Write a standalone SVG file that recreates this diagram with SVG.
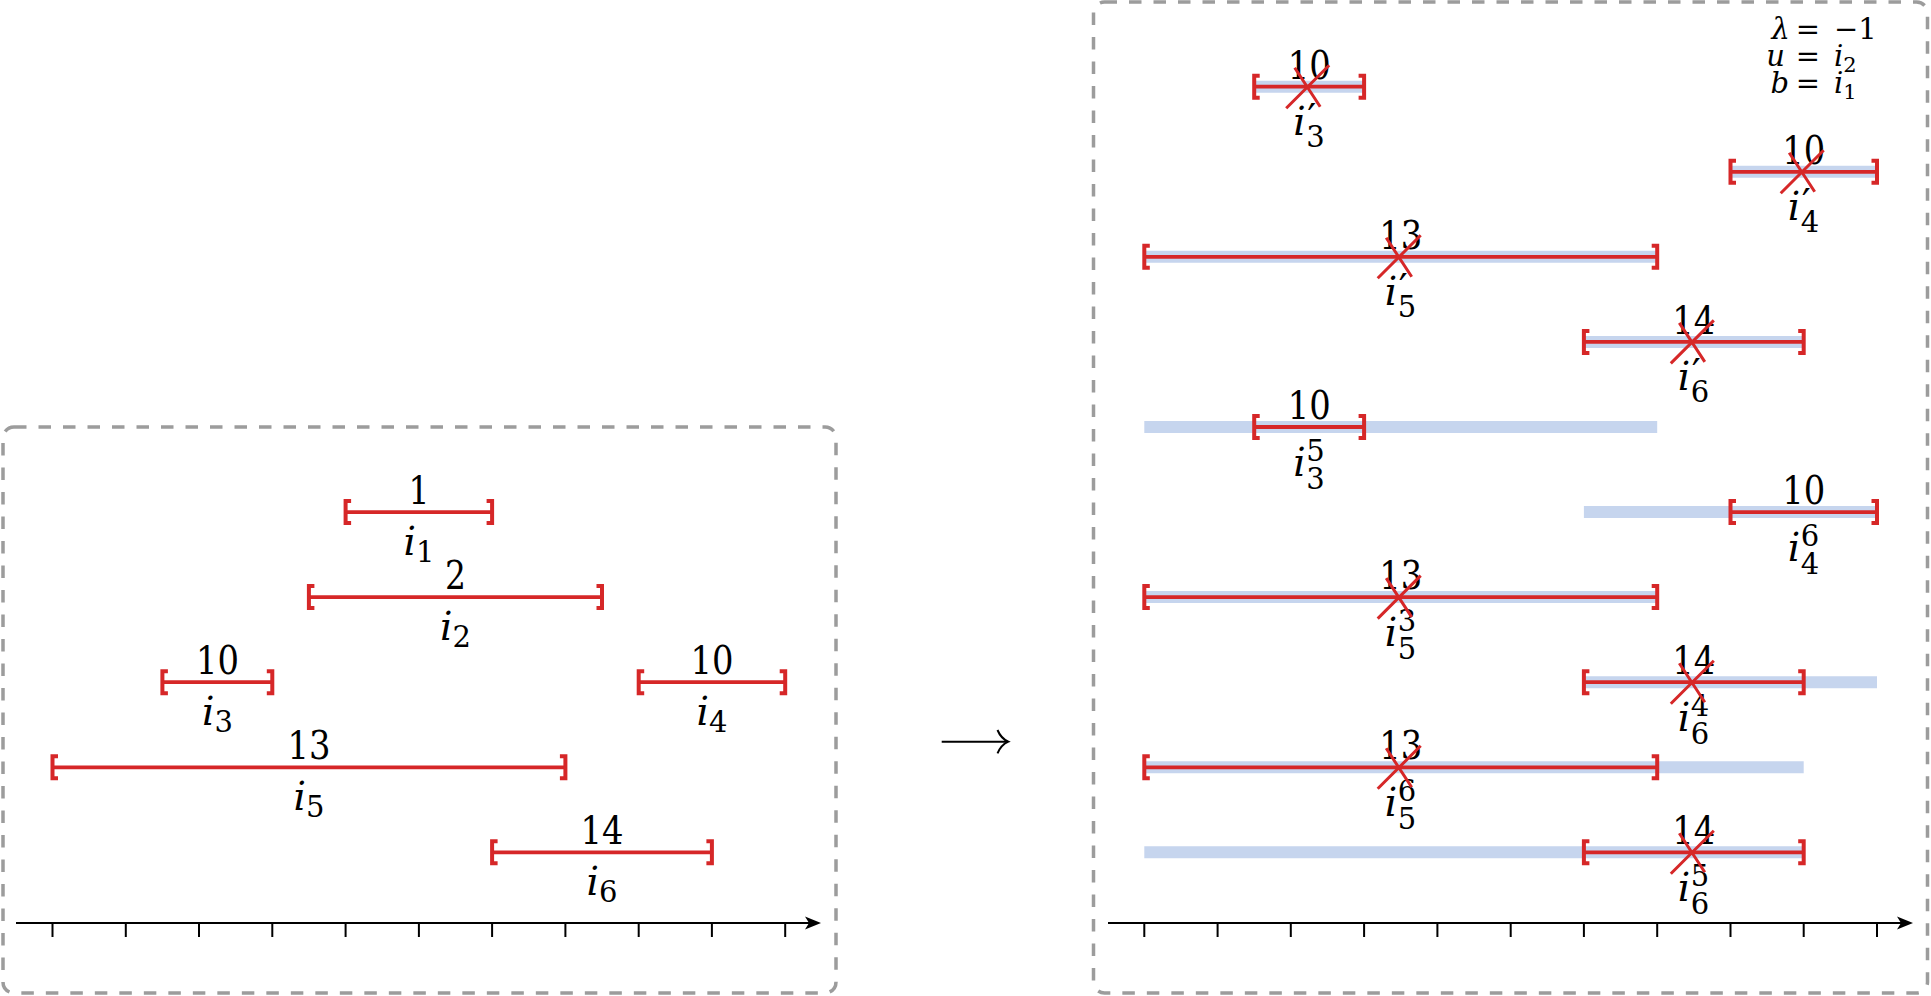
<svg xmlns="http://www.w3.org/2000/svg" width="1931" height="996" viewBox="0 0 1931 996">
<defs>
<style>
.frame{fill:none;stroke:#9c9c9c;stroke-width:3.5;stroke-dasharray:12.5 12}
.axis{fill:none;stroke:#000;stroke-width:2}
.tick{stroke:#000;stroke-width:2}
.band{stroke:#c6d5ee;stroke-width:12;stroke-linecap:butt}
.seg{stroke:#d62728;stroke-width:3.8;stroke-linecap:butt}
.br{fill:none;stroke:#d62728;stroke-width:4;stroke-linejoin:miter}
.cross{fill:none;stroke:#d62728;stroke-width:3;stroke-linecap:butt}
text{font-family:"DejaVu Serif",serif;fill:#000}
.num{font-size:39px;text-anchor:middle}
.lab{font-size:39px;font-style:italic}
.scr{font-size:29px;font-style:normal}
.pr{font-size:40px;font-style:normal}
.eq{font-size:29px}
.eqs{font-size:21px;font-style:normal}
</style>
<path id="lb" class="br" d="M5.5 -11H0V11H5.5"/>
<path id="rb" class="br" d="M-5.5 -11H0V11H-5.5"/>
<path id="x" class="cross" d="M-20 21.5L23 -21.5M-11.5 -19L14 20"/>
<path id="ah" d="M0 0L-16 -6.5L-12 0L-16 6.5Z" fill="#000"/>
</defs>
<rect width="1931" height="996" fill="#fff"/>

<g id="left-panel">
<rect class="frame" x="3" y="427" width="833" height="566" rx="11"/>
<g id="left-axis">
<path class="axis" d="M16 923H810"/>
<use href="#ah" x="821" y="923"/>
<path class="tick" d="M52.5 923v14M125.8 923v14M199 923v14M272.3 923v14M345.6 923v14M418.9 923v14M492.1 923v14M565.4 923v14M638.7 923v14M711.9 923v14M785.2 923v14"/>
</g>
<g id="i1">
<line class="seg" x1="345.6" y1="512.1" x2="492.1" y2="512.1"/>
<use href="#lb" x="345.6" y="512.1"/><use href="#rb" x="492.1" y="512.1"/>
<text class="num" x="418.9" y="504" textLength="21" lengthAdjust="spacingAndGlyphs">1</text>
<text class="lab" x="418.9" y="555" text-anchor="middle">i<tspan class="scr" dy="7">1</tspan></text>
</g>
<g id="i2">
<line class="seg" x1="308.9" y1="597.1" x2="602" y2="597.1"/>
<use href="#lb" x="308.9" y="597.1"/><use href="#rb" x="602" y="597.1"/>
<text class="num" x="455.5" y="589" textLength="21" lengthAdjust="spacingAndGlyphs">2</text>
<text class="lab" x="455.5" y="640" text-anchor="middle">i<tspan class="scr" dy="7">2</tspan></text>
</g>
<g id="i3">
<line class="seg" x1="162.4" y1="682.2" x2="272.3" y2="682.2"/>
<use href="#lb" x="162.4" y="682.2"/><use href="#rb" x="272.3" y="682.2"/>
<text class="num" x="217.4" y="674" textLength="43" lengthAdjust="spacingAndGlyphs">10</text>
<text class="lab" x="217.4" y="725" text-anchor="middle">i<tspan class="scr" dy="7">3</tspan></text>
</g>
<g id="i4">
<line class="seg" x1="638.7" y1="682.2" x2="785.2" y2="682.2"/>
<use href="#lb" x="638.7" y="682.2"/><use href="#rb" x="785.2" y="682.2"/>
<text class="num" x="712" y="674" textLength="43" lengthAdjust="spacingAndGlyphs">10</text>
<text class="lab" x="712" y="725" text-anchor="middle">i<tspan class="scr" dy="7">4</tspan></text>
</g>
<g id="i5">
<line class="seg" x1="52.5" y1="767.3" x2="565.4" y2="767.3"/>
<use href="#lb" x="52.5" y="767.3"/><use href="#rb" x="565.4" y="767.3"/>
<text class="num" x="309" y="759" textLength="43" lengthAdjust="spacingAndGlyphs">13</text>
<text class="lab" x="309" y="810" text-anchor="middle">i<tspan class="scr" dy="7">5</tspan></text>
</g>
<g id="i6">
<line class="seg" x1="492.1" y1="852.3" x2="711.9" y2="852.3"/>
<use href="#lb" x="492.1" y="852.3"/><use href="#rb" x="711.9" y="852.3"/>
<text class="num" x="602" y="844" textLength="43" lengthAdjust="spacingAndGlyphs">14</text>
<text class="lab" x="602" y="895" text-anchor="middle">i<tspan class="scr" dy="7">6</tspan></text>
</g>
</g>

<g id="connectors">
<path d="M941.7 741.7H1007" fill="none" stroke="#000" stroke-width="2"/>
<path d="M997.5 730Q1001 738.5 1008.3 741.7Q1001 745 997.5 753.4" fill="none" stroke="#000" stroke-width="2"/>
</g>

<g id="right-panel">
<rect class="frame" x="1093.5" y="2" width="834" height="991" rx="11"/>
<g id="right-axis">
<path class="axis" d="M1108 923H1902"/>
<use href="#ah" x="1913" y="923"/>
<path class="tick" d="M1144.3 923v14M1217.6 923v14M1290.8 923v14M1364.1 923v14M1437.4 923v14M1510.7 923v14M1583.9 923v14M1657.2 923v14M1730.5 923v14M1803.7 923v14M1877 923v14"/>
</g>
<g id="params">
<text class="eq" x="1790" y="39" text-anchor="end" font-style="italic">λ</text>
<text class="eq" x="1808" y="39" text-anchor="middle">=</text>
<text class="eq" x="1834" y="39">−1</text>
<text class="eq" x="1785" y="66" text-anchor="end" font-style="italic">u</text>
<text class="eq" x="1808" y="66" text-anchor="middle">=</text>
<text class="eq" x="1834" y="66" font-style="italic">i<tspan class="eqs" dy="6">2</tspan></text>
<text class="eq" x="1789" y="93" text-anchor="end" font-style="italic">b</text>
<text class="eq" x="1808" y="93" text-anchor="middle">=</text>
<text class="eq" x="1834" y="93" font-style="italic">i<tspan class="eqs" dy="6">1</tspan></text>
</g>

<g id="r-i3p">
<line class="band" x1="1254.2" y1="86.7" x2="1364.1" y2="86.7"/>
<line class="seg" x1="1254.2" y1="86.7" x2="1364.1" y2="86.7"/>
<use href="#lb" x="1254.2" y="86.7"/><use href="#rb" x="1364.1" y="86.7"/>
<text class="num" x="1309.2" y="79" textLength="43" lengthAdjust="spacingAndGlyphs">10</text>
<text class="lab" x="1293.2" y="135">i</text><text class="pr" x="1307.2" y="132">′</text><text class="scr" x="1306.2" y="147">3</text>
<use href="#x" x="1306.2" y="86.7"/>
</g>
<g id="r-i4p">
<line class="band" x1="1730.5" y1="171.8" x2="1877" y2="171.8"/>
<line class="seg" x1="1730.5" y1="171.8" x2="1877" y2="171.8"/>
<use href="#lb" x="1730.5" y="171.8"/><use href="#rb" x="1877" y="171.8"/>
<text class="num" x="1803.7" y="164" textLength="43" lengthAdjust="spacingAndGlyphs">10</text>
<text class="lab" x="1787.7" y="220">i</text><text class="pr" x="1801.7" y="217">′</text><text class="scr" x="1800.7" y="232">4</text>
<use href="#x" x="1800.7" y="171.8"/>
</g>
<g id="r-i5p">
<line class="band" x1="1144.3" y1="256.8" x2="1657.2" y2="256.8"/>
<line class="seg" x1="1144.3" y1="256.8" x2="1657.2" y2="256.8"/>
<use href="#lb" x="1144.3" y="256.8"/><use href="#rb" x="1657.2" y="256.8"/>
<text class="num" x="1400.7" y="249" textLength="43" lengthAdjust="spacingAndGlyphs">13</text>
<text class="lab" x="1384.7" y="305">i</text><text class="pr" x="1398.7" y="302">′</text><text class="scr" x="1397.7" y="317">5</text>
<use href="#x" x="1397.7" y="256.8"/>
</g>
<g id="r-i6p">
<line class="band" x1="1583.9" y1="341.9" x2="1803.7" y2="341.9"/>
<line class="seg" x1="1583.9" y1="341.9" x2="1803.7" y2="341.9"/>
<use href="#lb" x="1583.9" y="341.9"/><use href="#rb" x="1803.7" y="341.9"/>
<text class="num" x="1693.8" y="334" textLength="43" lengthAdjust="spacingAndGlyphs">14</text>
<text class="lab" x="1677.8" y="390">i</text><text class="pr" x="1691.8" y="387">′</text><text class="scr" x="1690.8" y="402">6</text>
<use href="#x" x="1690.8" y="341.9"/>
</g>
<g id="r-i3-5">
<line class="band" x1="1144.3" y1="427" x2="1657.2" y2="427"/>
<line class="seg" x1="1254.2" y1="427" x2="1364.1" y2="427"/>
<use href="#lb" x="1254.2" y="427"/><use href="#rb" x="1364.1" y="427"/>
<text class="num" x="1309.2" y="419" textLength="43" lengthAdjust="spacingAndGlyphs">10</text>
<text class="lab" x="1293.2" y="476">i</text><text class="scr" x="1306.2" y="461">5</text><text class="scr" x="1306.2" y="489">3</text>
</g>
<g id="r-i4-6">
<line class="band" x1="1583.9" y1="512.1" x2="1877" y2="512.1"/>
<line class="seg" x1="1730.5" y1="512.1" x2="1877" y2="512.1"/>
<use href="#lb" x="1730.5" y="512.1"/><use href="#rb" x="1877" y="512.1"/>
<text class="num" x="1803.7" y="504" textLength="43" lengthAdjust="spacingAndGlyphs">10</text>
<text class="lab" x="1787.7" y="561">i</text><text class="scr" x="1800.7" y="546">6</text><text class="scr" x="1800.7" y="574">4</text>
</g>
<g id="r-i5-3">
<line class="band" x1="1144.3" y1="597.1" x2="1657.2" y2="597.1"/>
<line class="seg" x1="1144.3" y1="597.1" x2="1657.2" y2="597.1"/>
<use href="#lb" x="1144.3" y="597.1"/><use href="#rb" x="1657.2" y="597.1"/>
<text class="num" x="1400.7" y="589" textLength="43" lengthAdjust="spacingAndGlyphs">13</text>
<text class="lab" x="1384.7" y="646">i</text><text class="scr" x="1397.7" y="631">3</text><text class="scr" x="1397.7" y="659">5</text>
<use href="#x" x="1397.7" y="597.1"/>
</g>
<g id="r-i6-4">
<line class="band" x1="1583.9" y1="682.2" x2="1877" y2="682.2"/>
<line class="seg" x1="1583.9" y1="682.2" x2="1803.7" y2="682.2"/>
<use href="#lb" x="1583.9" y="682.2"/><use href="#rb" x="1803.7" y="682.2"/>
<text class="num" x="1693.8" y="674" textLength="43" lengthAdjust="spacingAndGlyphs">14</text>
<text class="lab" x="1677.8" y="731">i</text><text class="scr" x="1690.8" y="716">4</text><text class="scr" x="1690.8" y="744">6</text>
<use href="#x" x="1690.8" y="682.2"/>
</g>
<g id="r-i5-6">
<line class="band" x1="1144.3" y1="767.3" x2="1803.7" y2="767.3"/>
<line class="seg" x1="1144.3" y1="767.3" x2="1657.2" y2="767.3"/>
<use href="#lb" x="1144.3" y="767.3"/><use href="#rb" x="1657.2" y="767.3"/>
<text class="num" x="1400.7" y="759" textLength="43" lengthAdjust="spacingAndGlyphs">13</text>
<text class="lab" x="1384.7" y="816">i</text><text class="scr" x="1397.7" y="801">6</text><text class="scr" x="1397.7" y="829">5</text>
<use href="#x" x="1397.7" y="767.3"/>
</g>
<g id="r-i6-5">
<line class="band" x1="1144.3" y1="852.3" x2="1803.7" y2="852.3"/>
<line class="seg" x1="1583.9" y1="852.3" x2="1803.7" y2="852.3"/>
<use href="#lb" x="1583.9" y="852.3"/><use href="#rb" x="1803.7" y="852.3"/>
<text class="num" x="1693.8" y="844" textLength="43" lengthAdjust="spacingAndGlyphs">14</text>
<text class="lab" x="1677.8" y="901">i</text><text class="scr" x="1690.8" y="886">5</text><text class="scr" x="1690.8" y="914">6</text>
<use href="#x" x="1690.8" y="852.3"/>
</g>
</g>
</svg>
